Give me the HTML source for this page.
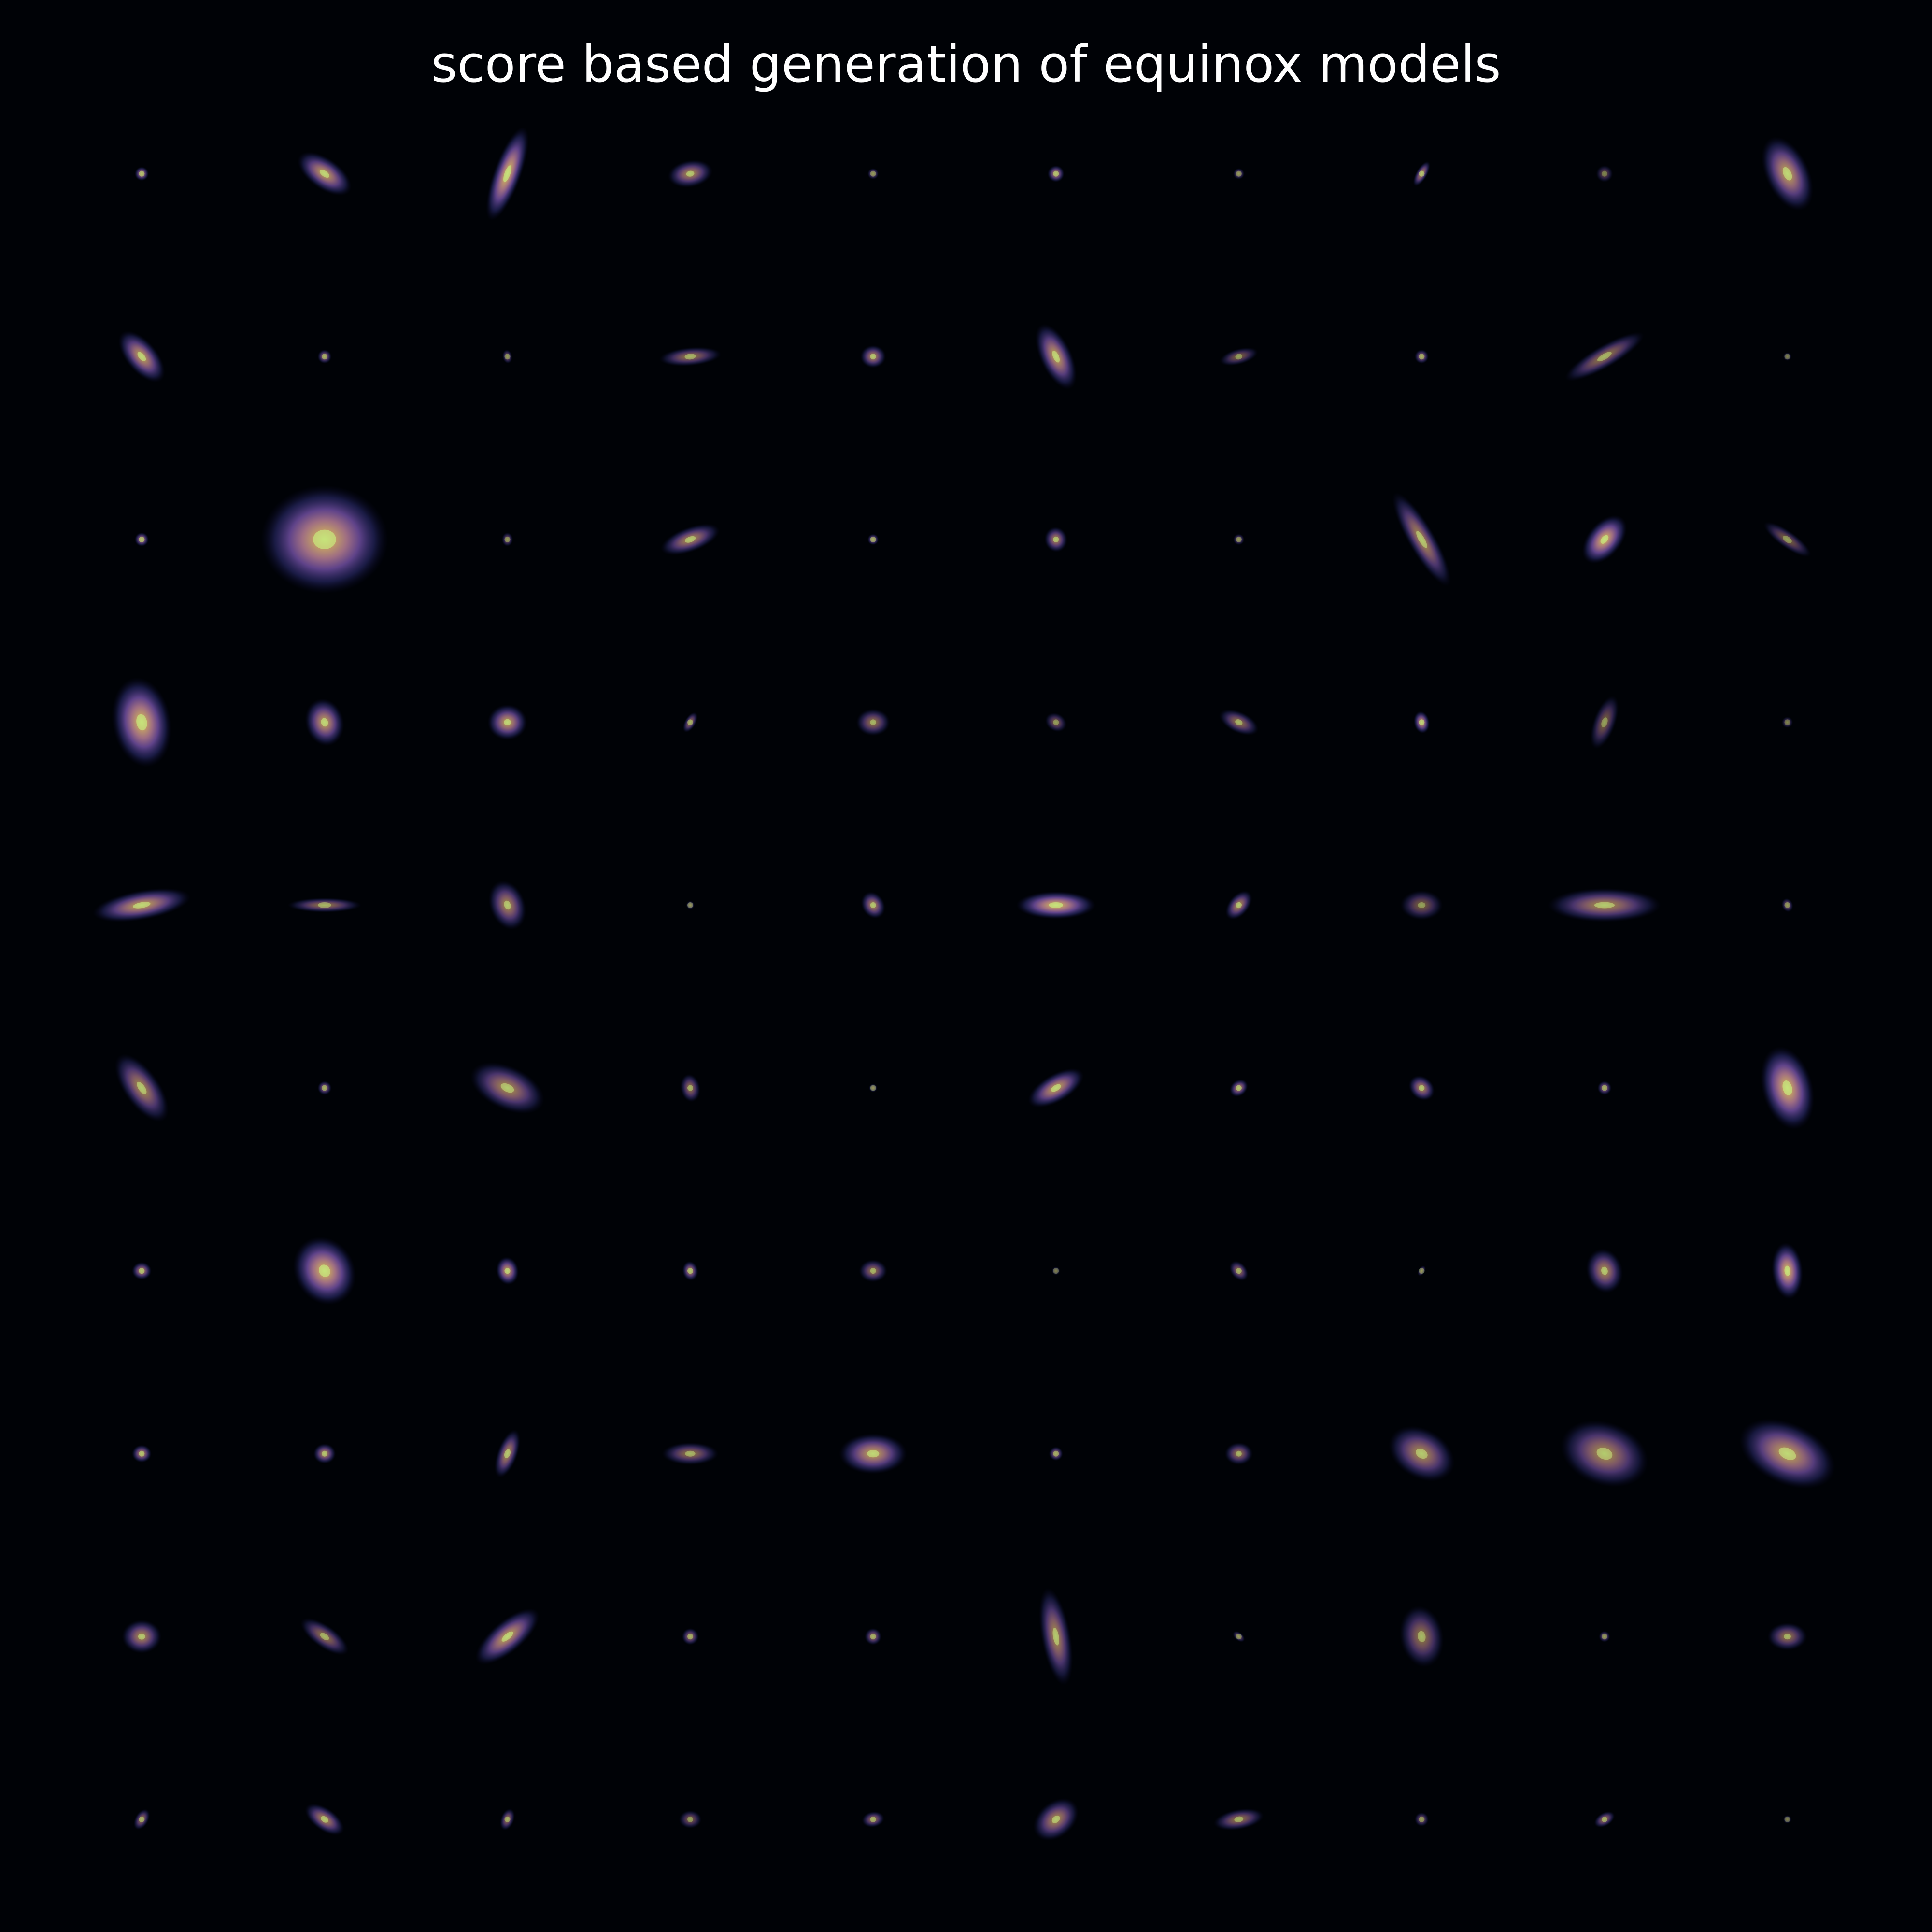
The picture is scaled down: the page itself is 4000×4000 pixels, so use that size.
<!DOCTYPE html>
<html>
<head>
<meta charset="utf-8">
<style>
  html, body { margin: 0; padding: 0; background: #000206; }
  #wrap { position: relative; width: 4000px; height: 4000px; background: #000206; overflow: hidden; }
  #title { position: absolute; left: 0; top: 76px; width: 4000px; text-align: center;
    font-family: "DejaVu Sans", "Liberation Sans", sans-serif; font-size: 104px; color: #ffffff; line-height: 1.1; }
  svg { position: absolute; left: 0; top: 0; }
</style>
</head>
<body>
<div id="wrap">
  <div id="title">score based generation of equinox models</div>
  <svg id="grid" width="4000" height="4000">
    <defs>
      <radialGradient id="gal" cx="50%" cy="50%" r="50%">
        <stop offset="0%" stop-color="#d6f27a"/>
        <stop offset="15%" stop-color="#d9b070"/>
        <stop offset="35%" stop-color="#b07a90"/>
        <stop offset="55%" stop-color="#6a4a98"/>
        <stop offset="78%" stop-color="#2a2a6a" stop-opacity="0.7"/>
        <stop offset="100%" stop-color="#0a0a30" stop-opacity="0"/>
      </radialGradient>
    </defs>
  </svg>
</div>
<script>
// Per-sample parameters (display-scale radius, axis ratio, angle deg, brightness), row-major 10x10
const radii = [
 5,22,35,16,4,6,4,10,6,28,
 22,5,5,22,9,25,14,5,32,3,
 5,45,5,22,4,9,4,38,20,20,
 32,17,14,8,12,8,15,8,20,4,
 35,26,18,3,10,28,12,15,40,5,
 28,5,28,10,2,22,7,10,5,30,
 7,25,10,7,10,3,8,4,16,20,
 7,8,18,20,24,5,10,25,32,36,
 14,20,28,6,6,35,5,22,4,14,
 8,16,8,8,8,18,18,5,8,3
];
const ratios = [
 1,.5,.28,.6,1,1,1,.4,1,.55,
 .5,1,.7,.3,.9,.45,.4,1,.25,1,
 1,.85,.8,.4,1,.9,1,.25,.6,.3,
 .65,.8,.9,.5,.8,.8,.5,.7,.4,1,
 .3,.2,.7,1,.8,.35,.6,.7,.3,.8,
 .45,1,.55,.7,1,.45,.8,.8,1,.6,
 .9,.85,.8,.8,.8,1,.7,.6,.8,.55,
 .9,.9,.4,.4,.6,1,.8,.7,.7,.6,
 .85,.4,.4,1,1,.3,.6,.7,1,.7,
 .6,.5,.6,.8,.7,.7,.4,1,.6,1
];
const angles = [
 0,35,-70,-10,0,0,0,-60,0,65,
 50,0,80,-5,0,65,-15,0,-30,0,
 0,0,90,-20,0,80,90,60,-50,35,
 80,75,0,-60,0,30,25,80,-70,0,
 -10,0,70,0,60,0,-50,0,0,70,
 55,0,25,80,0,-30,-40,40,0,75,
 0,60,80,80,0,0,50,-60,75,85,
 0,0,-70,0,0,0,0,30,20,25,
 0,35,-40,0,0,80,40,80,0,0,
 -60,35,-70,0,-10,-40,-10,0,-30,0
];
const brightness = [
 .7,.8,.9,.7,.5,.7,.5,.7,.4,.8,
 .8,.6,.5,.6,.7,.8,.5,.6,.6,.4,
 .7,.9,.5,.7,.6,.7,.5,.7,.9,.5,
 .9,.8,.8,.6,.6,.5,.6,.8,.5,.4,
 .8,.6,.7,.5,.7,.9,.7,.5,.7,.5,
 .7,.6,.7,.6,.5,.8,.7,.7,.6,.9,
 .7,.9,.8,.7,.6,.4,.6,.5,.7,.9,
 .7,.7,.7,.6,.8,.6,.6,.7,.7,.8,
 .7,.6,.8,.6,.6,.7,.5,.6,.5,.6,
 .6,.7,.6,.5,.6,.7,.6,.5,.6,.4
];
const NCOLS = 10, NROWS = 10;
const SCALE = 4000 / 1568;
function xCenter(col) { return (115 + col * 148.4) * SCALE; }
function yCenter(row) { return (141 + row * 148.4) * SCALE; }
const svg = document.getElementById('grid');
const NS = 'http://www.w3.org/2000/svg';
for (let i = 0; i < radii.length; i++) {
  const row = Math.floor(i / NCOLS), col = i % NCOLS;
  const cx = xCenter(col), cy = yCenter(row);
  const rx = Math.max(radii[i], 3) * SCALE * 1.15;
  const ry = rx * ratios[i];
  const g = document.createElementNS(NS, 'g');
  
  
  g.setAttribute('transform', 'translate(' + cx + ',' + cy + ') rotate(' + angles[i] + ')');
  const e = document.createElementNS(NS, 'ellipse');
  
  
  e.setAttribute('cx', 0); e.setAttribute('cy', 0);
  e.setAttribute('rx', rx); e.setAttribute('ry', ry);
  e.setAttribute('fill', 'url(#gal)');
  e.setAttribute('opacity', brightness[i]);
  g.appendChild(e);
  const c = document.createElementNS(NS, 'ellipse');
  
  
  c.setAttribute('cx', 0); c.setAttribute('cy', 0);
  c.setAttribute('rx', Math.max(rx * 0.18, 6)); c.setAttribute('ry', Math.max(ry * 0.18, 6));
  c.setAttribute('fill', '#c8e880');
  c.setAttribute('opacity', brightness[i] * 0.8);
  g.appendChild(c);
  svg.appendChild(g);
}
</script>
</body>
</html>
